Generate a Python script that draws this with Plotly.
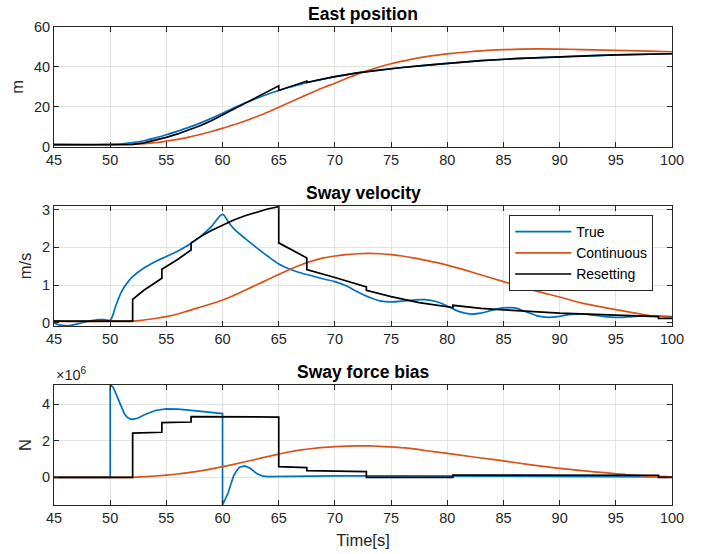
import numpy as np
import plotly.graph_objects as go

# ---------------- data ----------------
# East position [m]
t_pos_true = [45, 50, 51, 52, 53, 54, 55, 56, 57, 58, 59, 60, 61, 62, 63, 64, 65, 66, 67, 68, 69, 70,
              72, 74, 76, 78, 80, 83, 86, 90, 95, 100]
pos_true = [1.0, 1.0, 1.3, 2.0, 3.0, 4.4, 6.0, 7.8, 9.7, 11.8, 14.2, 16.8, 19.4, 21.9, 24.2, 26.3, 28.2,
            29.9, 31.4, 32.8, 34.0, 35.1, 37.0, 38.5, 39.7, 40.8, 41.8, 43.1, 44.1, 45.1, 46.0, 46.6]

t_pos_cont = [45, 50, 52, 54, 55, 56, 57, 58, 59, 60, 61, 62, 63, 64, 65, 66, 67, 68, 69, 70, 71, 72,
              73, 74, 75, 76, 77, 78, 79, 80, 82, 84, 86, 88, 90, 92, 95, 98, 100]
pos_cont = [1.0, 1.0, 1.2, 2.0, 2.8, 3.7, 4.8, 6.1, 7.6, 9.2, 11.0, 12.9, 15.0, 17.3, 19.8, 22.3, 24.8,
            27.3, 29.7, 31.8, 34.2, 36.4, 38.3, 40.1, 41.6, 42.9, 44.0, 45.0, 45.8, 46.5, 47.6, 48.4,
            48.8, 49.0, 48.9, 48.7, 48.3, 47.9, 47.6]

t_pos_reset = [45, 52, 53, 54, 55, 56, 57, 58, 59, 60, 61, 62, 63, 64, 65, 65, 66, 67, 67.5, 67.5, 68,
               69, 70, 72, 74, 76, 78, 80, 83, 86, 90, 95, 100]
pos_reset = [1.0, 1.2, 1.9, 3.2, 4.7, 6.4, 8.3, 10.5, 13.0, 15.9, 18.8, 21.7, 24.6, 27.6, 30.5, 28.2,
             30.1, 31.9, 32.9, 32.2, 32.8, 34.0, 35.1, 37.0, 38.5, 39.7, 40.8, 41.8, 43.1, 44.1, 45.1,
             46.0, 46.6]

# Sway velocity [m/s]
t_vel_true = [45, 45.5, 46, 46.5, 47, 47.5, 48, 48.5, 49, 49.5, 50, 50.5, 51, 51.5, 52, 53, 54, 55, 56,
              57, 58, 59, 60, 60.5, 61, 62, 63, 64, 65, 66, 67, 68, 69, 70, 71, 72, 73, 74, 75, 76, 77,
              78, 79, 80, 81, 82, 83, 84, 85, 86, 87, 88, 89, 90, 91, 92, 93, 94, 95, 96, 97, 98, 99, 100]
vel_true = [-0.01, -0.06, -0.08, -0.07, -0.04, 0.0, 0.03, 0.06, 0.08, 0.08, 0.07, 0.45, 0.82, 1.05, 1.22,
            1.45, 1.62, 1.76, 1.90, 2.07, 2.28, 2.55, 2.88, 2.68, 2.50, 2.24, 2.00, 1.77, 1.56, 1.42,
            1.32, 1.24, 1.16, 1.09, 0.98, 0.82, 0.68, 0.58, 0.55, 0.57, 0.60, 0.61, 0.56, 0.44, 0.30,
            0.23, 0.25, 0.33, 0.39, 0.39, 0.29, 0.18, 0.14, 0.17, 0.22, 0.23, 0.20, 0.16, 0.14, 0.15,
            0.17, 0.18, 0.17, 0.16]

t_vel_cont = [45, 52, 53, 54, 55, 56, 57, 58, 59, 60, 61, 62, 63, 64, 65, 66, 67, 68, 69, 70, 71, 72, 73,
              74, 75, 76, 77, 78, 79, 80, 82, 84, 86, 88, 90, 92, 94, 96, 98, 99, 100]
vel_cont = [0.04, 0.04, 0.07, 0.11, 0.16, 0.23, 0.32, 0.41, 0.50, 0.60, 0.72, 0.86, 1.00, 1.14, 1.28,
            1.42, 1.54, 1.64, 1.72, 1.77, 1.81, 1.83, 1.84, 1.83, 1.81, 1.77, 1.72, 1.66, 1.60, 1.53,
            1.36, 1.18, 1.00, 0.83, 0.68, 0.52, 0.40, 0.29, 0.19, 0.16, 0.14]

t_vel_reset = [45, 52, 52, 53, 54.6, 54.6, 56, 57.2, 57.2, 58, 59, 60, 61, 62, 63, 64, 65, 65, 67.5, 67.5,
               70, 72.8, 72.8, 75, 77.5, 80.5, 80.5, 83, 85, 90, 95, 98.8, 98.8, 100]
vel_reset = [0.04, 0.04, 0.62, 0.86, 1.18, 1.42, 1.68, 1.93, 2.12, 2.28, 2.45, 2.60, 2.73, 2.84, 2.94,
             3.02, 3.08, 2.12, 1.72, 1.41, 1.20, 0.95, 0.86, 0.69, 0.53, 0.40, 0.46, 0.38, 0.34, 0.25,
             0.20, 0.16, 0.11, 0.11]

# Sway force bias [x 1e6 N]
t_f_true = [45, 50, 50, 50.25, 50.5, 50.75, 51, 51.25, 51.5, 51.75, 52, 52.5, 53, 53.5, 54, 55, 56, 57,
            58, 59, 60, 60, 60.25, 60.5, 60.75, 61, 61.25, 61.5, 62, 62.5, 63, 63.5, 64, 65, 70, 75, 80,
            85, 90, 95, 100]
f_true = [0, 0, 5.06, 4.95, 4.60, 4.20, 3.85, 3.50, 3.30, 3.20, 3.18, 3.25, 3.42, 3.55, 3.66, 3.75, 3.74,
          3.68, 3.62, 3.55, 3.49, -1.52, -1.20, -0.85, -0.35, 0.10, 0.35, 0.55, 0.62, 0.48, 0.22, 0.08,
          0.04, 0.05, 0.08, 0.08, 0.06, 0.06, 0.05, 0.04, 0.02]

t_f_cont = [45, 52, 53, 54, 55, 56, 57, 58, 59, 60, 61, 62, 63, 64, 65, 66, 67, 68, 69, 70, 71, 72, 73, 74,
            75, 76, 77, 78, 80, 82, 84, 85, 86, 88, 90, 92, 94, 96, 98, 100]
f_cont = [0, 0, 0.03, 0.07, 0.12, 0.18, 0.26, 0.35, 0.46, 0.58, 0.71, 0.85, 0.99, 1.13, 1.27, 1.40, 1.50,
          1.58, 1.64, 1.68, 1.71, 1.72, 1.72, 1.70, 1.67, 1.62, 1.56, 1.47, 1.31, 1.14, 0.98, 0.90,
          0.81, 0.64, 0.49, 0.36, 0.25, 0.14, 0.06, 0.02]

t_f_reset = [45, 52, 52, 54.6, 54.6, 57.2, 57.2, 65, 65, 67.5, 67.5, 72.8, 72.8, 80.5, 80.5, 98.8, 98.8, 100]
f_reset = [0, 0, 2.42, 2.47, 3.00, 3.03, 3.33, 3.30, 0.58, 0.53, 0.36, 0.31, 0.0, -0.01, 0.12, 0.11, 0.0, 0.0]
F_SCALE = 1e6

x_ticks = [45, 50, 55, 60, 65, 70, 75, 80, 85, 90, 95, 100]

# ---------------- style ----------------
BLUE = "#0072BD"
ORANGE = "#D95319"
BLACK = "#000000"
AX = "#262626"
GRID = "#e3e3e3"
FONT = "Liberation Sans, Arial, Helvetica, sans-serif"
LW = 1.7

fig = go.Figure()

def add(x, y, color, name, ax, show, shape="linear"):
    fig.add_trace(go.Scatter(x=x, y=y, mode="lines", name=name, legendgroup=name,
                             showlegend=show, line=dict(color=color, width=LW, shape=shape),
                             xaxis="x" + ax, yaxis="y" + ax))

# subplot 1
add(t_pos_true, pos_true, BLUE, "True", "", False, "spline")
add(t_pos_cont, pos_cont, ORANGE, "Continuous", "", False, "spline")
add(t_pos_reset, pos_reset, BLACK, "Resetting", "", False)
# subplot 2
add(t_vel_true, vel_true, BLUE, "True", "2", True, "spline")
add(t_vel_cont, vel_cont, ORANGE, "Continuous", "2", True, "spline")
add(t_vel_reset, vel_reset, BLACK, "Resetting", "2", True)
# subplot 3
add(t_f_true, list(np.array(f_true) * F_SCALE), BLUE, "True", "3", False)
add(t_f_cont, list(np.array(f_cont) * F_SCALE), ORANGE, "Continuous", "3", False, "spline")
add(t_f_reset, list(np.array(f_reset) * F_SCALE), BLACK, "Resetting", "3", False)

# full-window figure; the page's default body margin is removed after plotting
W, H = 711, 554
plot_l, plot_r, plot_t, plot_b = 54, 671.7, 27, 505
ml, mr, mt, mb = plot_l, W - plot_r, plot_t, H - plot_b
ph = plot_b - plot_t
pw = plot_r - plot_l

def dom(top_px, bot_px):
    return [(plot_b - bot_px) / ph, (plot_b - top_px) / ph]

d1 = dom(27, 146.7)
d2 = dom(206, 326)
d3 = dom(385, 505)

common_x = dict(range=[45, 100], tickvals=x_ticks, showgrid=True, gridcolor=GRID, gridwidth=1,
                zeroline=False, showline=True, linecolor=AX, linewidth=1, mirror="allticks",
                ticks="inside", ticklen=5, tickcolor=AX, tickfont=dict(size=14.5, color=AX, family=FONT))
common_y = dict(showgrid=True, gridcolor=GRID, gridwidth=1, zeroline=False, showline=True,
                linecolor=AX, linewidth=1, mirror="allticks", ticks="inside", ticklen=5, tickcolor=AX,
                tickfont=dict(size=14.5, color=AX, family=FONT))

fig.update_layout(
    width=W, height=H,
    margin=dict(l=ml, r=mr, t=mt, b=mb, autoexpand=False),
    paper_bgcolor="white", plot_bgcolor="white",
    font=dict(family=FONT, color=AX),
    xaxis=dict(common_x, domain=[0, 1], anchor="y"),
    xaxis2=dict(common_x, domain=[0, 1], anchor="y2"),
    xaxis3=dict(common_x, domain=[0, 1], anchor="y3",
                title=dict(text="Time[s]", font=dict(size=16.5, color=AX, family=FONT), standoff=9)),
    yaxis=dict(common_y, domain=d1, anchor="x", range=[0, 60], tickvals=[0, 20, 40, 60],
               title=dict(text="m", font=dict(size=16.5, color=AX, family=FONT), standoff=6)),
    yaxis2=dict(common_y, domain=d2, anchor="x2", range=[-0.09, 3.1], tickvals=[0, 1, 2, 3],
                title=dict(text="m/s", font=dict(size=16.5, color=AX, family=FONT), standoff=6)),
    yaxis3=dict(common_y, domain=d3, anchor="x3", range=[-1.52e6, 5.06e6],
                tickvals=[0, 2e6, 4e6], ticktext=["0", "2", "4"],
                title=dict(text="N", font=dict(size=16.5, color=AX, family=FONT), standoff=6)),
    legend=dict(x=(509 - plot_l) / pw, y=(plot_b - 215) / ph, xanchor="left", yanchor="top",
                bgcolor="white", bordercolor=AX, borderwidth=1, itemwidth=56,
                font=dict(size=14, color=BLACK, family=FONT), tracegroupgap=0),
    showlegend=True,
)

titles = [("East position", d1[1]), ("Sway velocity", d2[1]), ("Sway force bias", d3[1])]
for txt, ytop in titles:
    fig.add_annotation(text="<b>%s</b>" % txt, x=0.5, xref="paper", y=ytop, yref="paper",
                       xanchor="center", yanchor="bottom", yshift=1, showarrow=False,
                       font=dict(size=17.5, color=BLACK, family=FONT))

fig.add_annotation(text="×10<sup>6</sup>", x=0, xref="paper", y=d3[1], yref="paper",
                   xanchor="left", yanchor="bottom", xshift=0, yshift=0, showarrow=False,
                   font=dict(size=14.5, color=AX, family=FONT))

fig.write_html("out.html", config={"displayModeBar": False},
               post_script="document.body.style.margin='0px';document.body.style.overflow='hidden';")
